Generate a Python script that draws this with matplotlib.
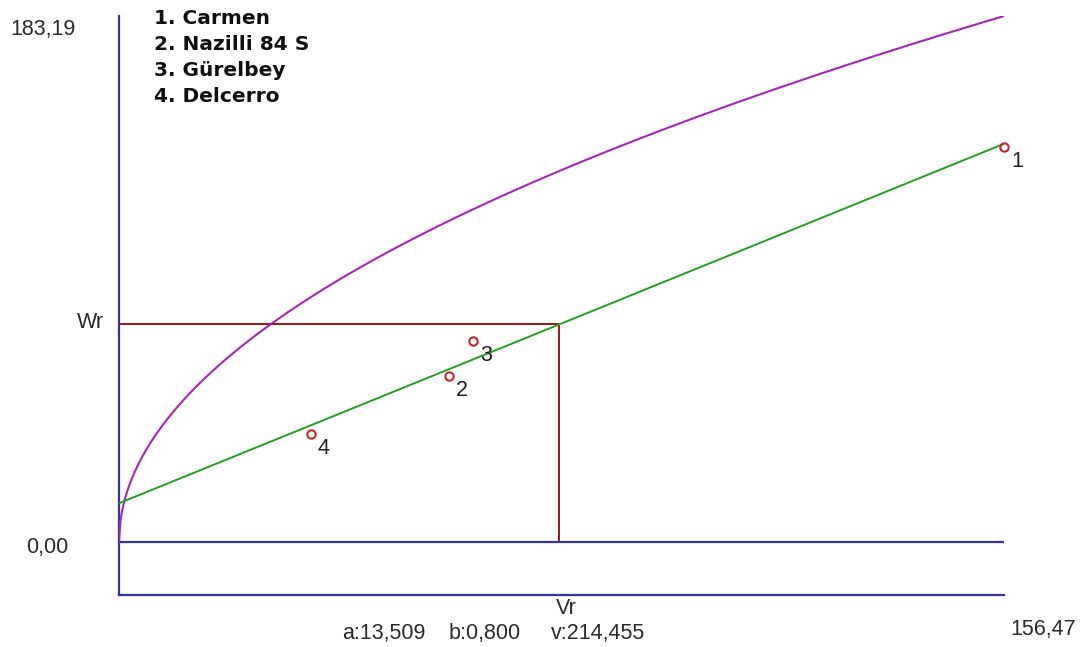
import numpy as np
import matplotlib
matplotlib.use("Agg")
import matplotlib.pyplot as plt

# Data (Hayman Wr-Vr graph)
labels = ["1", "2", "3", "4"]
names = ["1. Carmen", "2. Nazilli 84 S", "3. Gürelbey", "4. Delcerro"]
vr = [156.47, 58.3, 62.6, 33.9]
wr = [137.6, 57.8, 70.0, 37.6]
a_coef = 13.509
b_coef = 0.800
v0l0 = 214.455
x_max = 156.47
y_max = 183.19

W, H = 1082, 647
fig = plt.figure(figsize=(W / 100, H / 100), dpi=100)

# axes placement in pixels
px_left, px_right = 119, 1004
px_top, px_zero, px_bottom = 16, 542, 595
yscale = (px_zero - px_top) / y_max
y_min = -(px_bottom - px_zero) / yscale

ax = fig.add_axes([px_left / W, (H - px_bottom) / H,
                   (px_right - px_left) / W, (px_bottom - px_top) / H])
ax.set_xlim(0, x_max)
ax.set_ylim(y_min, y_max)
for s in ["top", "right"]:
    ax.spines[s].set_visible(False)
axis_col = "#3434a4"
for s in ["left", "bottom"]:
    ax.spines[s].set_color(axis_col)
    ax.spines[s].set_linewidth(1.6)
ax.set_xticks([])
ax.set_yticks([])
ax.patch.set_alpha(0)

# zero line
ax.hlines(0, 0, x_max, color=axis_col, lw=1.6, zorder=2)

# mean lines
mvr = np.mean(vr)
mwr = np.mean(wr)
red = "#a01414"
ax.hlines(mwr, 0, mvr, color=red, lw=1.4, zorder=3)
ax.vlines(mvr, 0, mwr, color=red, lw=1.4, zorder=3)

# limiting parabola
xs = np.linspace(0, x_max, 600)
ax.plot(xs, np.sqrt(v0l0 * xs), color="#a428b4", lw=1.5, zorder=4)

# regression line
xl = np.array([0, x_max])
ax.plot(xl, a_coef + b_coef * xl, color="#22a022", lw=1.4, zorder=4)

# points
ax.plot(vr, wr, linestyle="none", marker="o", markersize=6, mfc="none",
        mec="#c02828", mew=1.5, zorder=5, clip_on=False)
for lab, x, y in zip(labels, vr, wr):
    ax.annotate(lab, (x, y), xytext=(5, -3), textcoords="offset points",
                ha="left", va="top", fontsize=15.5, family="Liberation Sans",
                color="#202020", zorder=6, annotation_clip=False)

# text labels
def ftext(x, y, s, **kw):
    fig.text(x / W, 1 - y / H, s, **kw)

lab_kw = dict(fontsize=15.5, family="Liberation Sans", color="#2a2a2a")
ftext(10, 30, "183,19", ha="left", va="center", **lab_kw)
ftext(26, 548, "0,00", ha="left", va="center", **lab_kw)
ftext(1010, 629, "156,47", ha="left", va="center", **lab_kw)
ftext(77, 323, "Wr", ha="left", va="center", **lab_kw)
ftext(px_left + mvr * (px_right - px_left) / x_max + 7, 608, "Vr",
      ha="center", va="center", **lab_kw)
ftext(342, 633, "a:13,509", ha="left", va="center", **lab_kw)
ftext(449, 633, "b:0,800", ha="left", va="center", **lab_kw)
ftext(551, 633, "v:214,455", ha="left", va="center", **lab_kw)

for i, n in enumerate(names):
    ftext(154, 18 + 26 * i, n, ha="left", va="center", fontsize=14.5,
          fontweight="bold", family="DejaVu Sans", color="#101010")

fig.savefig("out.png", dpi=100)
